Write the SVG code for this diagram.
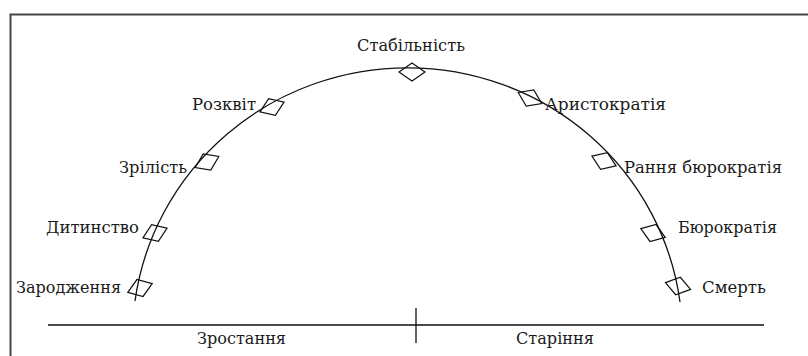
<svg xmlns="http://www.w3.org/2000/svg" width="808" height="356" viewBox="0 0 808 356">
<style>
text{font-family:"DejaVu Serif","Liberation Serif",serif;font-size:17px;fill:#1a1a1a}
.d{fill:none;stroke:#111;stroke-width:1.2}
.ln{fill:none;stroke:#111;stroke-width:1.3}
</style>
<defs>
<polygon id="dm" points="-13,0 0,-9 13,0 0,9"/>
</defs>
<rect width="808" height="356" fill="#fff"/>
<path d="M10.5,356 V14.5 H808" fill="none" stroke="#444" stroke-width="2"/>
<g id="connectors">
<path class="ln" d="M135,301 A275 270 0 0 1 680,302"/>
<path class="ln" d="M48,325 H764 M416,308 V343"/>
</g>
<g id="n-zarodzhennia"><use href="#dm" class="d" transform="translate(140,288) rotate(-20)"/><text x="16" y="293" textLength="105" lengthAdjust="spacingAndGlyphs">Зародження</text></g>
<g id="n-dytynstvo"><use href="#dm" class="d" transform="translate(155,233) rotate(-22)"/><text x="46" y="233" textLength="93" lengthAdjust="spacingAndGlyphs">Дитинство</text></g>
<g id="n-zrilist"><use href="#dm" class="d" transform="translate(207,162) rotate(-25)"/><text x="119" y="173" textLength="68" lengthAdjust="spacingAndGlyphs">Зрілість</text></g>
<g id="n-rozkvit"><use href="#dm" class="d" transform="translate(272,107) rotate(-22)"/><text x="192" y="110" textLength="64" lengthAdjust="spacingAndGlyphs">Розквіт</text></g>
<g id="n-stabilnist"><use href="#dm" class="d" transform="translate(412,72)"/><text x="357" y="51" textLength="108" lengthAdjust="spacingAndGlyphs">Стабільність</text></g>
<g id="n-arystokratiia"><use href="#dm" class="d" transform="translate(530,98) rotate(25)"/><text x="545" y="110" textLength="121" lengthAdjust="spacingAndGlyphs">Аристократія</text></g>
<g id="n-rannia"><use href="#dm" class="d" transform="translate(604,161) rotate(22)"/><text x="624" y="173" textLength="158" lengthAdjust="spacingAndGlyphs">Рання бюрократія</text></g>
<g id="n-biurokratiia"><use href="#dm" class="d" transform="translate(653,233) rotate(20)"/><text x="678" y="233" textLength="99" lengthAdjust="spacingAndGlyphs">Бюрократія</text></g>
<g id="n-smert"><use href="#dm" class="d" transform="translate(678,286) rotate(15)"/><text x="702" y="293" textLength="64" lengthAdjust="spacingAndGlyphs">Смерть</text></g>
<g id="n-zrostannia"><text x="197" y="344" textLength="89" lengthAdjust="spacingAndGlyphs">Зростання</text></g>
<g id="n-starinnia"><text x="516" y="344" textLength="78" lengthAdjust="spacingAndGlyphs">Старіння</text></g>
</svg>
